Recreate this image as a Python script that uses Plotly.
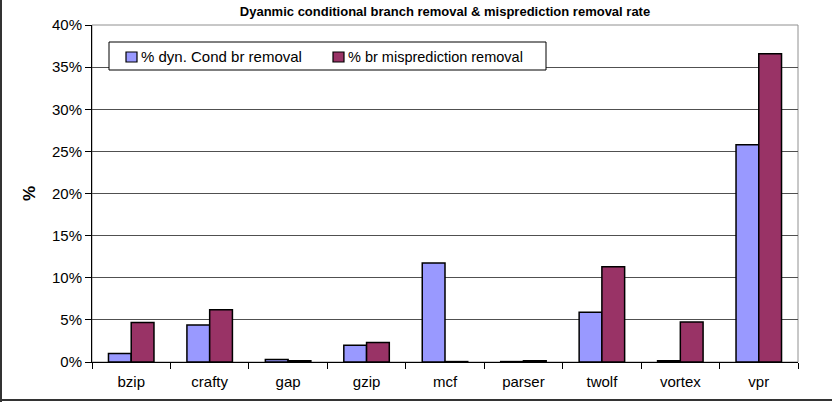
import plotly.graph_objects as go

categories = ["bzip", "crafty", "gap", "gzip", "mcf", "parser", "twolf", "vortex", "vpr"]
cond_br_removal = [1.0, 4.4, 0.3, 2.0, 11.75, 0.05, 5.9, 0.15, 25.8]
mispred_removal = [4.7, 6.2, 0.15, 2.3, 0.05, 0.15, 11.3, 4.75, 36.6]
series_names = ["% dyn. Cond br removal", "% br misprediction removal"]
series_colors = ["#9999FF", "#993366"]
y_ticks = [0, 5, 10, 15, 20, 25, 30, 35, 40]
y_labels = [f"{v}%" for v in y_ticks]

W, H = 832, 402
ml, mr, mt, mb = 92, 34, 25, 40
pw, ph = W - ml - mr, H - mt - mb

font = "Liberation Sans, Arial, sans-serif"


def px_x(p):
    return (p - ml) / pw


def px_y(p):
    return 1 - (p - mt) / ph


fig = go.Figure()
for vals, name, col in zip([cond_br_removal, mispred_removal], series_names, series_colors):
    fig.add_trace(go.Bar(x=categories, y=vals, name=name, showlegend=False,
                         marker=dict(color=col, line=dict(color="black", width=1.5))))

shapes = [
    dict(type="rect", xref="paper", yref="paper", x0=0, x1=1, y0=0, y1=1,
         line=dict(color="#909090", width=1), layer="below"),
    dict(type="line", xref="paper", yref="paper", x0=px_x(1), x1=px_x(1),
         y0=px_y(H), y1=px_y(0), line=dict(color="#333333", width=2)),
    dict(type="line", xref="paper", yref="paper", x0=px_x(1), x1=px_x(W),
         y0=px_y(H - 2), y1=px_y(H - 2), line=dict(color="#333333", width=2)),
    # legend box
    dict(type="rect", xref="paper", yref="paper", x0=px_x(109), x1=px_x(546),
         y0=px_y(70), y1=px_y(42), line=dict(color="black", width=1), fillcolor="white"),
]
annotations = []
legend_sym_x = [126, 333]
legend_txt_x = [139, 346]
legend_font_sizes = [15, 14.5]
for sx, tx, fs, name, col in zip(legend_sym_x, legend_txt_x, legend_font_sizes,
                                 series_names, series_colors):
    shapes.append(dict(type="rect", xref="paper", yref="paper", x0=px_x(sx), x1=px_x(sx + 11),
                       y0=px_y(62), y1=px_y(52), line=dict(color="black", width=1.2),
                       fillcolor=col))
    annotations.append(dict(text=name, xref="paper", yref="paper", x=px_x(tx), y=px_y(57),
                            xanchor="left", yanchor="middle", showarrow=False,
                            font=dict(size=fs, family=font, color="black")))

fig.update_layout(
    width=W, height=H,
    margin=dict(l=ml, r=mr, t=mt, b=mb),
    paper_bgcolor="white", plot_bgcolor="white",
    font=dict(family=font, size=15, color="black"),
    barmode="group", bargap=0.42, bargroupgap=0,
    title=dict(text="<b>Dyanmic conditional branch removal & misprediction removal rate</b>",
               x=0.5, xanchor="center", xref="paper", y=1 - 11 / H, yanchor="middle",
               font=dict(size=13)),
    showlegend=False,
    xaxis=dict(showline=True, linecolor="black", linewidth=1, ticks="outside",
               tickson="boundaries", ticklen=6, tickcolor="black", showgrid=False,
               tickfont=dict(size=15), ticklabelstandoff=6),
    yaxis=dict(range=[0, 40], tickvals=y_ticks, ticktext=y_labels, showline=True,
               linecolor="black", linewidth=1, ticks="outside", ticklen=6,
               tickcolor="black", showgrid=True, gridcolor="#505050", gridwidth=1,
               zeroline=False, tickfont=dict(size=15),
               title=dict(text="<b>%</b>", font=dict(size=17), standoff=12)),
    shapes=shapes,
    annotations=annotations,
)

fig.write_html("out.html")
